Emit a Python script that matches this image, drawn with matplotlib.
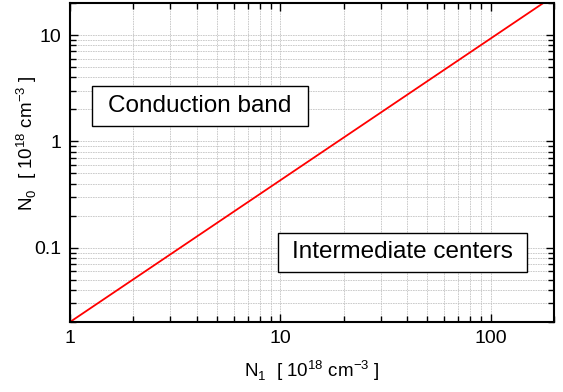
import matplotlib
matplotlib.use("Agg")
import matplotlib.pyplot as plt
from matplotlib.patches import Rectangle
from matplotlib.ticker import LogLocator, FixedLocator, FixedFormatter, NullFormatter

plt.rcParams['font.family'] = ['Liberation Sans', 'DejaVu Sans']
plt.rcParams['mathtext.fontset'] = 'custom'
plt.rcParams['mathtext.rm'] = 'Liberation Sans'

N1 = [1, 178]
N0 = [0.02, 20]
xticks = [1, 10, 100]
xticklabels = ["1", "10", "100"]
yticks = [0.1, 1, 10]
yticklabels = ["0.1", "1", "10"]

W, H = 563, 392
fig = plt.figure(figsize=(W/100, H/100), dpi=100)
ax = fig.add_axes([70/W, 1 - 322/H, (554-70)/W, (322-3)/H])
ax.set_xscale('log')
ax.set_yscale('log')
ax.plot(N1, N0, color='#ff0000', lw=1.3)
ax.set_xlim(1, 200)
ax.set_ylim(0.02, 20)

ax.xaxis.set_major_locator(FixedLocator(xticks))
ax.xaxis.set_major_formatter(FixedFormatter(xticklabels))
ax.yaxis.set_major_locator(FixedLocator(yticks))
ax.yaxis.set_major_formatter(FixedFormatter(yticklabels))
ax.xaxis.set_minor_locator(LogLocator(base=10, subs=range(2, 10)))
ax.yaxis.set_minor_locator(LogLocator(base=10, subs=range(2, 10)))
ax.xaxis.set_minor_formatter(NullFormatter())
ax.yaxis.set_minor_formatter(NullFormatter())

ax.tick_params(which='both', direction='in', top=True, right=True, labelsize=14, width=1, color='black')
ax.tick_params(which='major', length=6, pad=6)
ax.tick_params(which='minor', length=4)
ax.grid(True, which='both', color='#c4c4c4', linestyle=(0, (2, 1)), lw=0.6)
for s in ax.spines.values():
    s.set_linewidth(1.5)

ax.set_xlabel(r"N$_\mathrm{1}$  [ 10$^\mathrm{18}$ cm$^\mathrm{-3}$ ]", fontsize=13.5, labelpad=8)
ax.set_ylabel(r"N$_\mathrm{0}$  [ 10$^\mathrm{18}$ cm$^\mathrm{-3}$ ]", fontsize=13.5)
ax.yaxis.set_label_coords(-31/484, (322-143)/319)

def box(x0, y0, x1, y1, label):
    fig.patches.append(Rectangle((x0/W, 1 - y1/H), (x1-x0)/W, (y1-y0)/H,
                                 transform=fig.transFigure, facecolor='white',
                                 edgecolor='black', lw=1, zorder=5))
    fig.text((x0+x1)/2/W, 1 - (y0+y1)/2/H, label, fontsize=17.5,
             ha='center', va='center', zorder=6)

box(92, 86, 308, 126, "Conduction band")
box(278, 233, 527, 272, "Intermediate centers")

fig.savefig("out.png", dpi=100)
